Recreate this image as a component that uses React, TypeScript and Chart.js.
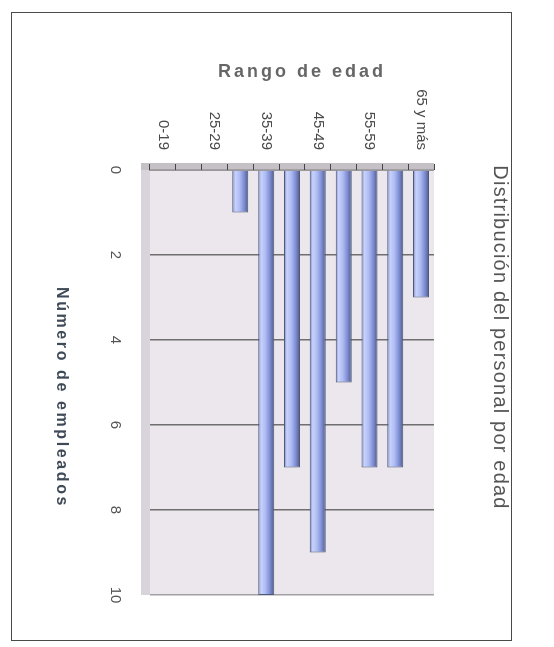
import React, { useEffect, useRef } from 'react';
import { Chart, registerables } from 'chart.js';

Chart.register(...registerables);

// ---- data ----
const categories = ['0-19', '20-24', '25-29', '30-34', '35-39', '40-44', '45-49', '50-54', '55-59', '60-64', '65 y más'];
const employees = [0, 0, 0, 1, 10, 7, 9, 5, 7, 7, 3];
const valueMin = 0;
const valueMax = 10;
const valueStep = 2;
const chartTitle = 'Distribución del personal por edad';
const categoryAxisTitle = 'Rango de edad';
const valueAxisTitle = 'Número de empleados';

// canvas is drawn in the chart's own (unrotated) orientation and turned 90° clockwise
const W = 628;
const H = 500;
const FONT = '"Liberation Sans", Arial, sans-serif';

const wallPlugin = {
  id: 'wall',
  beforeDraw(chart: any) {
    const { ctx, chartArea: a } = chart;
    if (!a) return;
    ctx.save();
    ctx.fillStyle = '#ebe7ec';
    ctx.fillRect(a.left, a.top, a.right - a.left, a.bottom - a.top);
    // floor (below category range) and axis band
    ctx.fillStyle = '#d9d4db';
    ctx.fillRect(a.left - 6, a.bottom, a.right - a.left + 6, 9);
    ctx.fillStyle = '#c4c0c5';
    ctx.fillRect(a.left - 7, a.top, 7, a.bottom - a.top + 9);
    ctx.restore();
  },
};

export default function App() {
  const ref = useRef<HTMLCanvasElement>(null);

  useEffect(() => {
    const canvas = ref.current;
    if (!canvas) return;
    const chart: any = new Chart(canvas, {
      type: 'bar',
      data: {
        labels: categories,
        datasets: [
          {
            data: employees,
            backgroundColor: (c: any) => {
              const ch = c.chart;
              const ys = ch.scales && ch.scales.y;
              if (!ys || c.type !== 'data' || !ch.chartArea) return '#a9b6ee';
              const yc = ys.getPixelForValue(c.dataIndex);
              const half = (Math.abs(ys.getPixelForValue(1) - ys.getPixelForValue(0)) * 0.62) / 2;
              const g = ch.ctx.createLinearGradient(0, yc - half, 0, yc + half);
              g.addColorStop(0, '#4f5a84');
              g.addColorStop(0.25, '#7c8ad0');
              g.addColorStop(0.55, '#aebcf4');
              g.addColorStop(0.82, '#c8d2fb');
              g.addColorStop(1, '#7985bd');
              return g;
            },
            borderColor: '#4e5878',
            borderWidth: 1,
            categoryPercentage: 1,
            barPercentage: 0.62,
          },
        ],
      },
      options: {
        indexAxis: 'y',
        responsive: false,
        animation: false,
        devicePixelRatio: 1,
        layout: { padding: { top: 0, right: 45, bottom: 0, left: 0 } },
        plugins: {
          legend: { display: false },
          tooltip: { enabled: false },
          title: {
            display: true,
            text: chartTitle,
            color: '#555555',
            font: { family: FONT, size: 20, weight: 'normal' },
            padding: { top: 0, bottom: 54 },
          },
        },
        scales: {
          x: {
            position: 'bottom',
            min: valueMin,
            max: valueMax,
            ticks: { stepSize: valueStep, color: '#555555', font: { family: FONT, size: 15 }, padding: 26 },
            grid: {
              drawTicks: false,
              color: (c: any) => (c.tick && (c.tick.value === valueMin || c.tick.value === valueMax) ? '#a3a0a4' : '#6f6f6f'),
              lineWidth: 1.5,
            },
            border: { display: false },
            title: {
              display: true,
              text: valueAxisTitle,
              color: '#3f4a58',
              font: { family: FONT, size: 16, weight: 'bold' },
              padding: { top: 0, bottom: 40 },
            },
            afterFit: (s: any) => {
              s.height = 138;
            },
          },
          y: {
            reverse: true,
            offset: true,
            ticks: {
              autoSkip: false,
              color: '#4a4a4a',
              font: { family: FONT, size: 15 },
              padding: 14,
              callback: (_v: any, i: number) => (i % 2 === 0 ? categories[i] : ''),
            },
            grid: { drawOnChartArea: false, drawTicks: true, tickLength: 6, color: '#444444', lineWidth: 1 },
            border: { display: true, color: '#9a979b' },
            title: {
              display: true,
              text: categoryAxisTitle,
              color: '#666666',
              font: { family: FONT, size: 18, weight: 'bold' },
              padding: { top: 49, bottom: 0 },
            },
            afterFit: (s: any) => {
              s.width = 158;
            },
          },
        },
      } as any,
      plugins: [wallPlugin],
    });

    // letter spacing / small offsets for the titles (as in the scanned original)
    const spaced = (obj: any, key: string, spacing: string, dx = 0, dy = 0) => {
      if (!obj || typeof obj[key] !== 'function') return;
      const orig = obj[key].bind(obj);
      obj[key] = (...args: any[]) => {
        const ctx = chart.ctx;
        ctx.save();
        ctx.translate(dx, dy);
        (ctx as any).letterSpacing = spacing;
        orig(...args);
        ctx.restore();
      };
    };
    spaced(chart.titleBlock, 'draw', '1.2px', 34, 0);
    spaced(chart.scales.y, 'drawTitle', '3px', 0, -10);
    spaced(chart.scales.x, 'drawTitle', '2.6px', 15, 0);
    chart.draw();

    return () => chart.destroy();
  }, []);

  return (
    <div style={{ position: 'fixed', left: 0, top: 0, width: 554, height: 647, background: '#ffffff', overflow: 'hidden' }}>
      <div
        style={{
          position: 'absolute',
          left: 11,
          top: 12,
          width: 501,
          height: 629,
          border: '1.5px solid #4a4a4a',
          boxSizing: 'border-box',
        }}
      />
      <div
        style={{
          position: 'absolute',
          left: 12,
          top: 12,
          width: W,
          height: H,
          transform: `translateX(${H}px) rotate(90deg)`,
          transformOrigin: '0 0',
        }}
      >
        <canvas ref={ref} width={W} height={H} style={{ display: 'block' }} />
      </div>
    </div>
  );
}
